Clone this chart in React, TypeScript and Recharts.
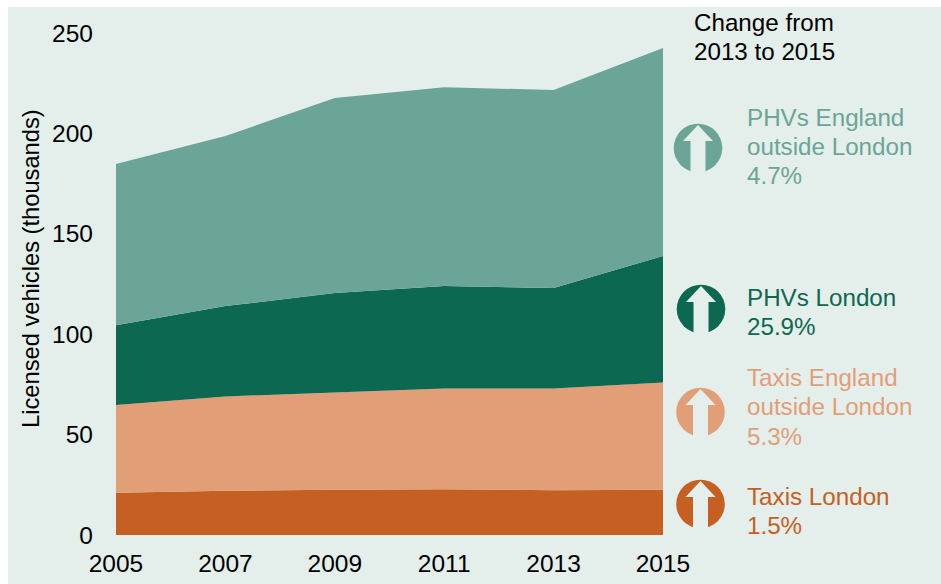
import { Area, AreaChart, XAxis, YAxis } from 'recharts';

const YEARS = [2005, 2007, 2009, 2011, 2013, 2015];
const TAXIS_LONDON = [21, 22, 22.5, 22.8, 22.3, 22.5];
const TAXIS_ENGLAND = [43.7, 47, 48.5, 50.2, 50.7, 53.5];
const PHVS_LONDON = [39.8, 45, 49.5, 51, 50, 63];
const PHVS_ENGLAND = [80.2, 84.7, 97.1, 99, 98.6, 103.5];
const Y_TICKS = [0, 50, 100, 150, 200, 250];

const data = YEARS.map((year, i) => ({
  year,
  taxisLondon: TAXIS_LONDON[i],
  taxisEngland: TAXIS_ENGLAND[i],
  phvsLondon: PHVS_LONDON[i],
  phvsEngland: PHVS_ENGLAND[i],
}));

const BG = '#e4eeea';
const FONT = '"Liberation Sans", Arial, sans-serif';
const TICK = { fill: '#000', fontSize: 24.5, fontFamily: FONT };

const COLORS = {
  phvsEngland: '#6ba598',
  phvsLondon: '#0d6851',
  taxisEngland: '#e29e77',
  taxisLondon: '#c66022',
};

const ChangeIcon = ({ cx, cy, color }: { cx: number; cy: number; color: string }) => (
  <g>
    <circle cx={cx} cy={cy} r={24.3} fill={color} />
    <path
      d={`M${cx} ${cy - 23} L${cx + 15} ${cy - 7} H${cx + 7.5} V${cy + 25} H${cx - 7.5} V${cy - 7} H${cx - 15} Z`}
      fill={BG}
    />
  </g>
);

const Lines = ({ x, ys, lines, color }: { x: number; ys: number[]; lines: string[]; color: string }) => (
  <text x={x} fill={color} fontSize={24.2} fontFamily={FONT}>
    {lines.map((line, i) => (
      <tspan key={line} x={x} y={ys[i]}>
        {line}
      </tspan>
    ))}
  </text>
);

export default function App() {
  return (
    <div style={{ position: 'absolute', left: 0, top: 0, width: 941, height: 584, background: '#fff', overflow: 'hidden' }}>
      <div style={{ position: 'absolute', left: 8, top: 7, width: 933, height: 577, background: BG }} />
      <div style={{ position: 'absolute', left: 0, top: 0 }}>
        <AreaChart width={941} height={584} data={data} margin={{ top: 33, right: 278, bottom: 0, left: 0 }}>
          <XAxis
            dataKey="year"
            type="number"
            domain={[2005, 2015]}
            ticks={YEARS}
            height={49}
            axisLine={false}
            tickLine={false}
            tick={TICK}
            tickMargin={14}
            interval={0}
          />
          <YAxis
            type="number"
            domain={[0, 250]}
            ticks={Y_TICKS}
            width={116}
            axisLine={false}
            tickLine={false}
            tick={TICK}
            tickMargin={17}
            label={{
              value: 'Licensed vehicles (thousands)',
              angle: -90,
              position: 'insideLeft',
              dx: 26,
              dy: 144,
              style: { fill: '#000', fontSize: 23.7, fontFamily: FONT },
            }}
          />
          <Area dataKey="taxisLondon" stackId="a" type="linear" stroke="none" fill={COLORS.taxisLondon} fillOpacity={1} isAnimationActive={false} />
          <Area dataKey="taxisEngland" stackId="a" type="linear" stroke="none" fill={COLORS.taxisEngland} fillOpacity={1} isAnimationActive={false} />
          <Area dataKey="phvsLondon" stackId="a" type="linear" stroke="none" fill={COLORS.phvsLondon} fillOpacity={1} isAnimationActive={false} />
          <Area dataKey="phvsEngland" stackId="a" type="linear" stroke="none" fill={COLORS.phvsEngland} fillOpacity={1} isAnimationActive={false} />
        </AreaChart>
      </div>
      {/* change-from-2013 notes on the right */}
      <svg width={941} height={584} style={{ position: 'absolute', left: 0, top: 0 }}>
        <Lines x={694} ys={[31, 60]} lines={['Change from', '2013 to 2015']} color="#000" />

        <ChangeIcon cx={698} cy={148} color={COLORS.phvsEngland} />
        <Lines x={747} ys={[126, 155, 184]} lines={['PHVs England', 'outside London', '4.7%']} color={COLORS.phvsEngland} />

        <ChangeIcon cx={701} cy={309} color={COLORS.phvsLondon} />
        <Lines x={747} ys={[306, 335]} lines={['PHVs London', '25.9%']} color={COLORS.phvsLondon} />

        <ChangeIcon cx={700.5} cy={412} color={COLORS.taxisEngland} />
        <Lines x={747} ys={[386, 415, 445]} lines={['Taxis England', 'outside London', '5.3%']} color={COLORS.taxisEngland} />

        <ChangeIcon cx={700.5} cy={504} color={COLORS.taxisLondon} />
        <Lines x={747} ys={[505, 534]} lines={['Taxis London', '1.5%']} color={COLORS.taxisLondon} />
      </svg>
    </div>
  );
}
